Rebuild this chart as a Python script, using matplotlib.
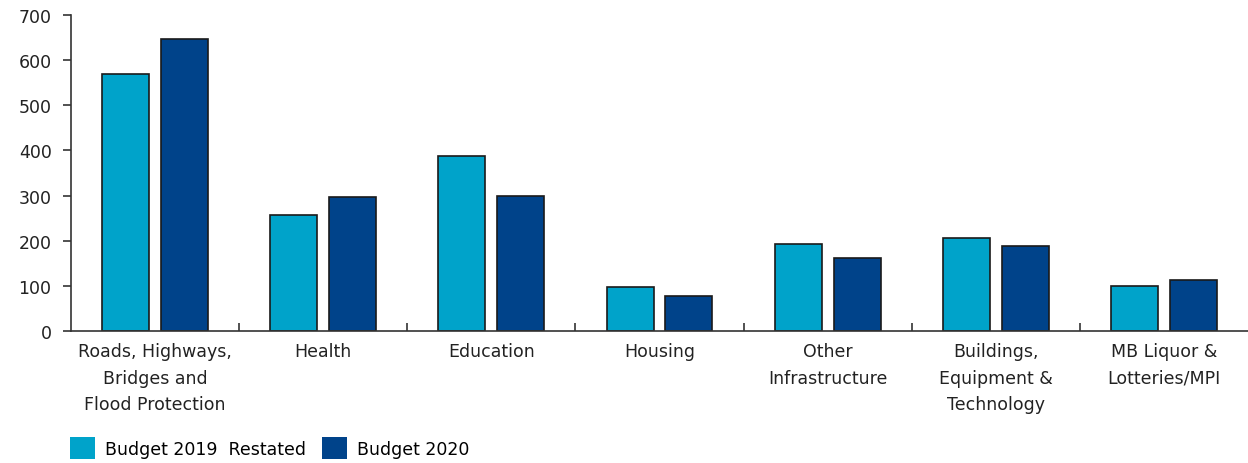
import numpy as np
import matplotlib
matplotlib.use('Agg')
import matplotlib.pyplot as plt
from matplotlib.patches import Patch

categories = ['Roads, Highways,\nBridges and\nFlood Protection', 'Health', 'Education',
              'Housing', 'Other\nInfrastructure', 'Buildings,\nEquipment &\nTechnology',
              'MB Liquor &\nLotteries/MPI']
budget_2019 = [570, 258, 387, 98, 193, 207, 100]
budget_2020 = [647, 296, 300, 78, 162, 189, 113]
series_names = ['Budget 2019  Restated', 'Budget 2020']
light = '#00A3CA'
dark = '#00438A'

plt.rcParams['font.family'] = 'DejaVu Sans'
fig = plt.figure(figsize=(12.48, 4.64), dpi=100)
ax = fig.add_axes([0.0569, 0.2845, 0.9431, 0.681])

x = np.arange(len(categories))
w = 0.28
ax.bar(x - 0.175, budget_2019, w, color=light, edgecolor='#1a1a1a', linewidth=1.2)
ax.bar(x + 0.175, budget_2020, w, color=dark, edgecolor='#1a1a1a', linewidth=1.2)

ax.set_xlim(-0.5, len(categories) - 0.5)
ax.set_ylim(0, 700)
ax.set_yticks(range(0, 701, 100))
ax.set_xticks(x)
ax.set_xticklabels(categories, fontsize=12.5, color='#222222', linespacing=1.6)
ax.set_xticks(np.arange(0.5, len(categories) - 0.5, 1), minor=True)
ax.tick_params(axis='x', which='major', length=0, pad=8)
ax.tick_params(axis='x', which='minor', direction='in', length=6, width=1.2, color='#333333')
ax.tick_params(axis='y', length=6, width=1.2, pad=8, labelsize=12.5, color='#333333', labelcolor='#222222')

for s in ['top', 'right']:
    ax.spines[s].set_visible(False)
for s in ['left', 'bottom']:
    ax.spines[s].set_linewidth(1.2)
    ax.spines[s].set_color('#333333')

handles = [Patch(facecolor=light, edgecolor='none'), Patch(facecolor=dark, edgecolor='none')]
fig.legend(handles, series_names, loc='center left', bbox_to_anchor=(0.056, 0.032),
           frameon=False, fontsize=12.5, handlelength=1.45, handleheight=1.55,
           handletextpad=0.55, columnspacing=0.95, ncol=2, borderaxespad=0, borderpad=0)

fig.savefig('out.png', dpi=100)
